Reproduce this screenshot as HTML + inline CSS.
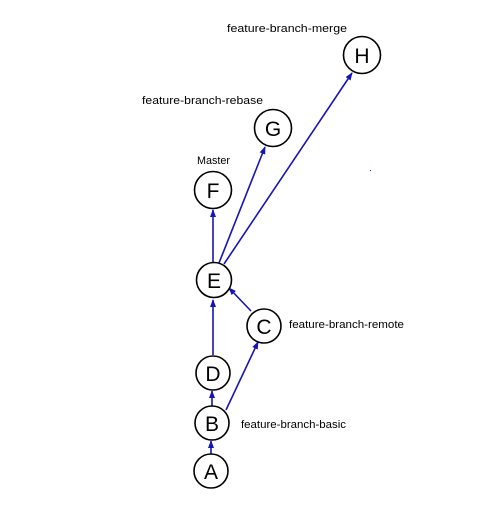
<!DOCTYPE html>
<html><head><style>body{margin:0;background:#fff}</style></head><body>
<svg width="500" height="500" xmlns="http://www.w3.org/2000/svg" font-family="Liberation Sans, sans-serif">
<defs><marker id="a" markerWidth="8" markerHeight="8" refX="7" refY="4" orient="auto" markerUnits="userSpaceOnUse"><path d="M0,1 L8,4 L0,7 Z" fill="#1515b5"/></marker></defs>
<g stroke="#1515b5" stroke-width="1.6" marker-end="url(#a)">
<line x1="213" y1="262" x2="213" y2="210"/>
<line x1="219" y1="263" x2="265" y2="147"/>
<line x1="224" y1="264" x2="352" y2="73"/>
<line x1="251" y1="311" x2="229" y2="288"/>
<line x1="213" y1="355" x2="213" y2="300"/>
<line x1="212" y1="406" x2="212" y2="391"/>
<line x1="211" y1="454" x2="211" y2="441"/>
<line x1="226" y1="410" x2="258" y2="342"/>
</g>
<g fill="#fff" stroke="#000" stroke-width="1.6">
<circle cx="362" cy="55" r="18.5"/><circle cx="273" cy="128" r="18.5"/><circle cx="213" cy="190" r="18.5"/>
<circle cx="214" cy="280" r="17.5"/><circle cx="264" cy="326" r="17"/><circle cx="213" cy="373" r="17"/>
<circle cx="212" cy="423" r="17"/><circle cx="211" cy="471" r="17"/>
</g>
<g font-size="21" text-anchor="middle">
<text x="362" y="63">H</text><text x="273" y="136">G</text><text x="213" y="198">F</text>
<text x="214" y="288">E</text><text x="264" y="334">C</text><text x="213" y="381">D</text>
<text x="212" y="431">B</text><text x="211" y="479">A</text>
</g>
<g font-size="11">
<text x="227" y="32" textLength="120" lengthAdjust="spacingAndGlyphs">feature-branch-merge</text>
<text x="142" y="104" textLength="121" lengthAdjust="spacingAndGlyphs">feature-branch-rebase</text>
<text x="197" y="164" textLength="33" lengthAdjust="spacingAndGlyphs">Master</text>
<text x="289" y="328" textLength="115" lengthAdjust="spacingAndGlyphs">feature-branch-remote</text>
<text x="241" y="428" textLength="105" lengthAdjust="spacingAndGlyphs">feature-branch-basic</text>
</g>
<rect x="370" y="170" width="1" height="1" fill="#1515b5"/>
</svg>
</body></html>
